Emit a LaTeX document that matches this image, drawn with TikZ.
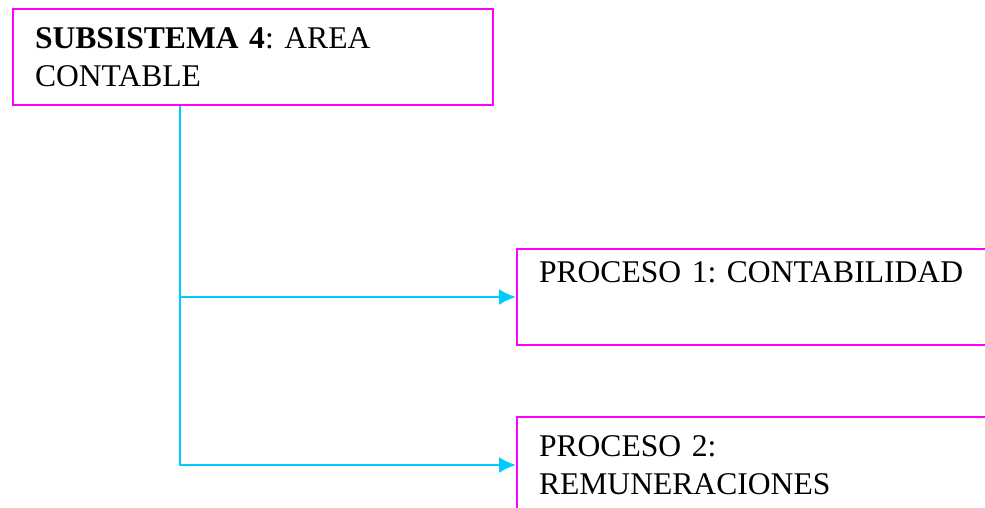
\documentclass[tikz,border=0pt]{standalone}
\usepackage{fontspec}
\setmainfont{Liberation Serif}
\usetikzlibrary{positioning,arrows.meta}
\definecolor{bordecaja}{RGB}{255,0,255}
\definecolor{lineacian}{RGB}{0,204,255}
\frenchspacing
\tikzset{
  caja/.style={rectangle,draw=bordecaja,line width=2pt,anchor=north west,
    inner xsep=22pt,inner ysep=0pt,minimum height=96pt,align=left,
    text width=#1,font=\fontsize{31.6}{38}\selectfont},
  linea/.style={draw=lineacian,line width=2pt}
}

\begin{document}
\begin{tikzpicture}[>={Latex[length=17pt,width=16pt]}]
\useasboundingbox (0,0) rectangle (985pt,-507pt);

\node[caja=436pt](sub) at (12pt,-8pt){\textbf{SUBSISTEMA 4}: AREA\\CONTABLE};
\node[caja=450pt](p1) at (516pt,-248pt){PROCESO 1: CONTABILIDAD\\\strut};
\node[caja=450pt](p2) at (516pt,-416pt){PROCESO 2:\\REMUNERACIONES};

\coordinate (tronco) at ([xshift=168pt]sub.south west);
\draw[linea,->] (tronco) |- (p1.west);
\draw[linea,->] (tronco) |- (p2.west);

\end{tikzpicture}
\end{document}
